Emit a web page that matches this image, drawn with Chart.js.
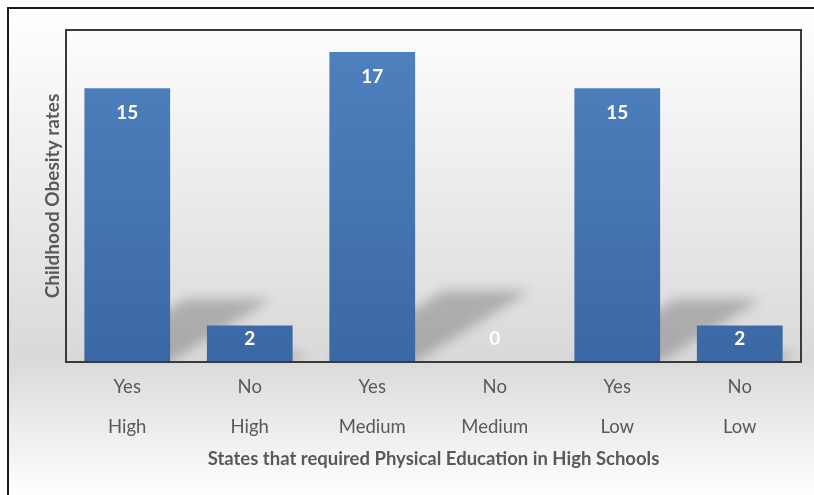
<!DOCTYPE html>
<html>
<head>
<meta charset="utf-8">
<script src="https://cdn.jsdelivr.net/npm/chart.js@4/dist/chart.umd.min.js"></script>
<style>
    body { margin: 0; background: #fff; }
    canvas { display: block; }
</style>
</head>
<body>
<canvas id="chart" width="814" height="495"></canvas>
<script>
var REQUIRED = ['Yes', 'No', 'Yes', 'No', 'Yes', 'No'];
var LEVEL = ['High', 'High', 'Medium', 'Medium', 'Low', 'Low'];
var RATES = [15, 2, 17, 0, 15, 2];
var Y_MAX = 18.2;

var TEXT = '#595959';

// background, outer frame and plot border
var framePlugin = {
    id: 'frame',
    beforeDraw: function (chart) {
        var ctx = chart.ctx;
        var g = ctx.createLinearGradient(0, 8, 0, chart.height);
        g.addColorStop(0, '#ffffff');
        g.addColorStop(0.72, '#d9d9d9');
        g.addColorStop(1, '#ffffff');
        ctx.save();
        ctx.fillStyle = '#ffffff';
        ctx.fillRect(0, 0, chart.width, chart.height);
        ctx.fillStyle = g;
        ctx.fillRect(8, 8, chart.width - 8, chart.height - 8);
        ctx.strokeStyle = '#1a1a1a';
        ctx.lineWidth = 2;
        ctx.beginPath();
        ctx.moveTo(8, chart.height);
        ctx.lineTo(8, 8);
        ctx.lineTo(chart.width, 8);
        ctx.stroke();
        ctx.restore();
    },
    beforeDatasetsDraw: function (chart) {
        // soft cast shadows behind the bars
        var ctx = chart.ctx;
        var area = chart.chartArea;
        ctx.save();
        ctx.beginPath();
        ctx.rect(area.left, area.top, area.right - area.left, area.bottom - area.top);
        ctx.clip();
        ctx.filter = 'blur(6px)';
        ctx.fillStyle = 'rgba(0,0,0,0.22)';
        chart.getDatasetMeta(0).data.forEach(function (bar) {
            var h = bar.base - bar.y;
            var dx = h * 0.37, dy = h * 0.23;
            var l = bar.x - bar.width / 2, r = bar.x + bar.width / 2;
            ctx.beginPath();
            ctx.moveTo(l, bar.base);
            ctx.lineTo(r, bar.base);
            ctx.lineTo(r + dx, bar.base - dy);
            ctx.lineTo(l + dx, bar.base - dy);
            ctx.closePath();
            ctx.fill();
        });
        ctx.restore();
    },
    afterDatasetsDraw: function (chart) {
        var ctx = chart.ctx;
        var area = chart.chartArea;
        ctx.save();
        // value labels
        ctx.fillStyle = '#ffffff';
        ctx.font = 'bold 19px Lato';
        ctx.textAlign = 'center';
        ctx.textBaseline = 'middle';
        chart.getDatasetMeta(0).data.forEach(function (bar, i) {
            var y = Math.min(bar.y + 25, bar.base - 23);
            ctx.fillText(RATES[i], bar.x, y);
        });
        // plot border
        ctx.strokeStyle = '#3a3a3a';
        ctx.lineWidth = 2;
        ctx.strokeRect(area.left, area.top, area.right - area.left, area.bottom - area.top);
        ctx.restore();
    }
};

function barFill(context) {
    var chart = context.chart;
    var area = chart.chartArea;
    if (!area) {
        return '#4a7bbb';
    }
    var g = chart.ctx.createLinearGradient(0, area.top, 0, area.bottom);
    g.addColorStop(0, '#4f82c0');
    g.addColorStop(1, '#3b68a4');
    return g;
}

var labels = REQUIRED.map(function (r, i) {
    return [r, LEVEL[i]];
});

new Chart(document.getElementById('chart'), {
    type: 'bar',
    data: {
        labels: labels,
        datasets: [{
            data: RATES,
            backgroundColor: barFill,
            borderWidth: 0,
            categoryPercentage: 1,
            barPercentage: 0.7
        }]
    },
    plugins: [framePlugin],
    options: {
        responsive: false,
        animation: false,
        layout: { padding: { left: 0, top: 30, right: 13, bottom: 0 } },
        plugins: {
            legend: { display: false },
            tooltip: { enabled: false }
        },
        scales: {
            x: {
                grid: { display: false, drawTicks: false },
                border: { display: false },
                ticks: {
                    color: TEXT,
                    padding: 5,
                    maxRotation: 0,
                    font: { family: 'Lato', size: 18.5, lineHeight: 40 / 18.5 }
                },
                title: {
                    display: true,
                    text: 'States that required Physical Education in High Schools',
                    color: TEXT,
                    font: { family: 'Lato', size: 18.5, weight: 'bold' },
                    padding: { top: 0, bottom: 25 }
                },
                afterFit: function (scale) {
                    scale.height = 133;
                }
            },
            y: {
                min: 0,
                max: Y_MAX,
                grid: { display: false, drawTicks: false },
                border: { display: false },
                ticks: { display: false },
                title: {
                    display: true,
                    text: 'Childhood Obesity rates',
                    color: TEXT,
                    font: { family: 'Lato', size: 19, weight: 'bold' },
                    padding: { top: 41, bottom: 0 }
                },
                afterFit: function (scale) {
                    scale.width = 66;
                }
            }
        }
    }
});
</script>
</body>
</html>
